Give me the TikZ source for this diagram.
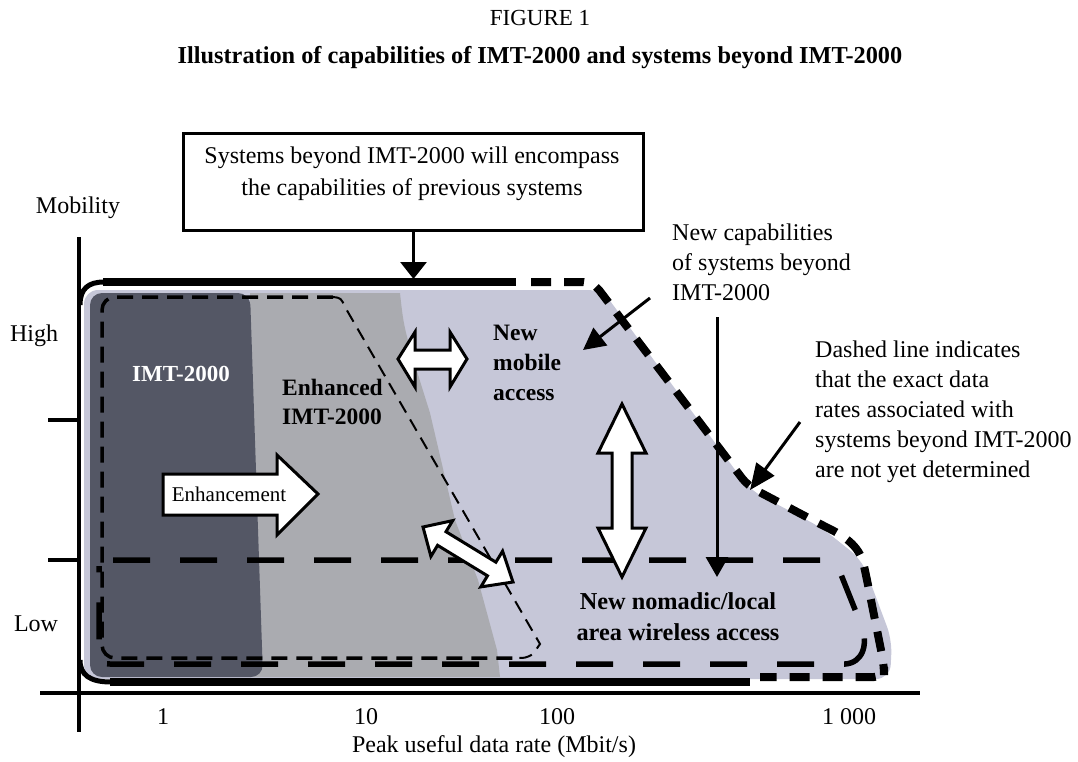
\documentclass[tikz,border=0pt]{standalone}
\usepackage{fontspec}
\setmainfont{Liberation Serif}
\usetikzlibrary{arrows.meta}
\definecolor{lightfill}{RGB}{198,199,216}
\definecolor{medfill}{RGB}{170,171,176}
\definecolor{darkfill}{RGB}{84,87,101}
\newcommand\txtsz{\fontsize{24}{30}\selectfont}
\begin{document}
\begin{tikzpicture}[x=1pt,y=-1pt,
  txt/.style={font=\txtsz, inner sep=0pt},
  boldtxt/.style={font=\txtsz\bfseries, inner sep=0pt},
  thinarrow/.style={line width=3pt, -{Triangle[length=22pt,width=22pt]}},
  blockarrow/.style={draw=black, fill=white, line width=3pt, line join=miter},
  axisline/.style={line width=4pt},
  outlinebar/.style={line width=8pt},
  outlinedash/.style={line width=8pt, dash pattern=on 20pt off 13pt},
  nomadicdash/.style={line width=5.5pt, dash pattern=on 37pt off 30pt},
  enhdash/.style={line width=3.5pt, dash pattern=on 16pt off 9pt},
  enhdiag/.style={line width=2pt, dash pattern=on 13pt off 8pt}]
\useasboundingbox (0,0) rectangle (1078,761);

% titles
\node[txt, font=\fontsize{23}{28}\selectfont] (fig) at (540,18) {FIGURE 1};
\node[boldtxt, font=\fontsize{24.3}{30}\selectfont\bfseries] (title) at (540,58) {Illustration of capabilities of IMT-2000 and systems beyond IMT-2000};

% region fills
\fill[lightfill, rounded corners=14pt] (84,679) -- (84,290) -- (602,290) -- (750,490) -- (822,528) -- (862,560) -- (892,640) -- (890,679) -- cycle;
\fill[medfill] (250,293) -- (400,293) .. controls (404,330) .. (430,413) -- (455,520) -- (478,580) -- (497,650) -- (500,677) -- (250,677) -- cycle;
\fill[darkfill, rounded corners=12pt] (90,677) -- (90,293) -- (250,293) -- (263,677) -- cycle;

% axes
\coordinate (yaxtop) at (79,237);
\coordinate (yaxbot) at (79,732);
\coordinate (xaxl) at (40,693);
\coordinate (xaxr) at (920,693);
\draw[axisline] (yaxtop) -- (yaxbot);
\draw[axisline] (xaxl) -- (xaxr);
\coordinate (tk1a) at (48,420); \coordinate (tk1b) at (79,420);
\coordinate (tk2a) at (48,560); \coordinate (tk2b) at (79,560);
\draw[axisline] (tk1a) -- (tk1b);
\draw[axisline] (tk2a) -- (tk2b);

% outer outline of systems beyond IMT-2000
\draw[outlinebar] (103,282) -- (516,282);
\draw[outlinebar] (110,682) -- (750,682);
\draw[line width=5pt] (80,305) .. controls (80,289) and (88,282) .. (104,282);
\draw[line width=5pt] (80,660) .. controls (80,675) and (90,682) .. (111,682);
\draw[outlinedash, rounded corners=10pt] (531,282) -- (593,282) -- (748,486) -- (820,524) .. controls (848,538) and (860,548) .. (866,575) -- (884,665) -- (884,677) -- (760,677);

% enhanced IMT-2000 outline
\draw[enhdash, rounded corners=13pt] (333,297) -- (102,297) -- (102,658) -- (513,658);
\draw[enhdiag] (333,297) .. controls (341,298) .. (345,307) -- (540,644) -- (533,654) .. controls (526,658) .. (513,658);

% new nomadic / local area outline
\draw[nomadicdash] (113,560) -- (825,560) .. controls (835,561) .. (840,572) -- (860,622) .. controls (870,645) and (862,663) .. (845,664) -- (112,664) .. controls (99,664) .. (99,651) -- (99,566);

% top box and arrow
\node[draw, line width=3pt, minimum width=460pt, minimum height=97pt, inner sep=0pt] (box) at (413.5,182) {};
\node[txt, align=center, font=\fontsize{24}{32}\selectfont] (boxtxt) at (412,174) {Systems beyond IMT-2000 will encompass\\the capabilities of previous systems};
\coordinate (topline) at (413.5,279);
\draw[line width=3pt, -{Triangle[length=17pt,width=26pt]}] (box.south) -- (topline);

% axis labels
\node[txt] (mob) at (78,208) {Mobility};
\node[txt] (high) at (34,336) {High};
\node[txt] (low) at (36,624) {Low};
\node[txt] (t1) at (163,717) {1};
\node[txt] (t10) at (366,717) {10};
\node[txt] (t100) at (557,717) {100};
\node[txt] (t1000) at (849,717) {1 000};
\node[txt] (xlab) at (494,747) {Peak useful data rate (Mbit/s)};

% region labels
\node[boldtxt, text=white, font=\fontsize{23}{29}\selectfont\bfseries] (imt) at (181,374) {IMT-2000};
\node[boldtxt, align=left, anchor=west, font=\fontsize{23.5}{29}\selectfont\bfseries] (enh) at (282,402) {Enhanced\\IMT-2000};
\node[boldtxt, align=left, anchor=west, font=\fontsize{23.5}{30}\selectfont\bfseries] (mobacc) at (493,363) {New\\mobile\\access};
\node[boldtxt, align=center, font=\fontsize{24.3}{31}\selectfont\bfseries] (nomad) at (678,617) {New nomadic/local\\area wireless access};

% block arrows
\draw[blockarrow] (163,474) -- (277,474) -- (277,455) -- (318,494) -- (277,535) -- (277,515) -- (163,515) -- cycle;
\node[txt, font=\fontsize{21}{25}\selectfont] (enhtxt) at (229,494) {Enhancement};
\draw[blockarrow] (398,359) -- (415,332) -- (415,350) -- (450,350) -- (450,332) -- (467,359) -- (450,387) -- (450,369) -- (415,369) -- (415,387) -- cycle;
\draw[blockarrow] (622,404) -- (646,453) -- (632,453) -- (632,528) -- (646,528) -- (622,577) -- (598,528) -- (612,528) -- (612,453) -- (598,453) -- cycle;
\draw[blockarrow] (423,527) -- (452.7,520.6) -- (446.0,531.7) -- (495.9,562.2) -- (502.6,551.1) -- (513,582) -- (480.8,586.9) -- (487.5,575.8) -- (437.6,545.3) -- (430.9,556.4) -- cycle;

% annotations
\node[txt, align=left, anchor=west] (newcap) at (672,262) {New capabilities\\of systems beyond\\IMT-2000};
\coordinate (nc1) at (650,298);
\coordinate (nc2) at (583,350);
\draw[thinarrow] (nc1) -- (nc2);
\coordinate (va1) at (717,317);
\coordinate (va2) at (717,577);
\draw[line width=3pt, -{Triangle[length=20pt,width=22pt]}] (va1) -- (va2);
\node[txt, align=left, anchor=west] (dashnote) at (815,412) {Dashed line indicates\\that the exact data\\rates associated with\\systems beyond IMT-2000\\are not yet determined};
\coordinate (dn1) at (800,422);
\coordinate (dn2) at (750,490);
\draw[line width=3pt, -{Triangle[length=26pt,width=22pt]}] (dn1) -- (dn2);
\end{tikzpicture}
\end{document}
